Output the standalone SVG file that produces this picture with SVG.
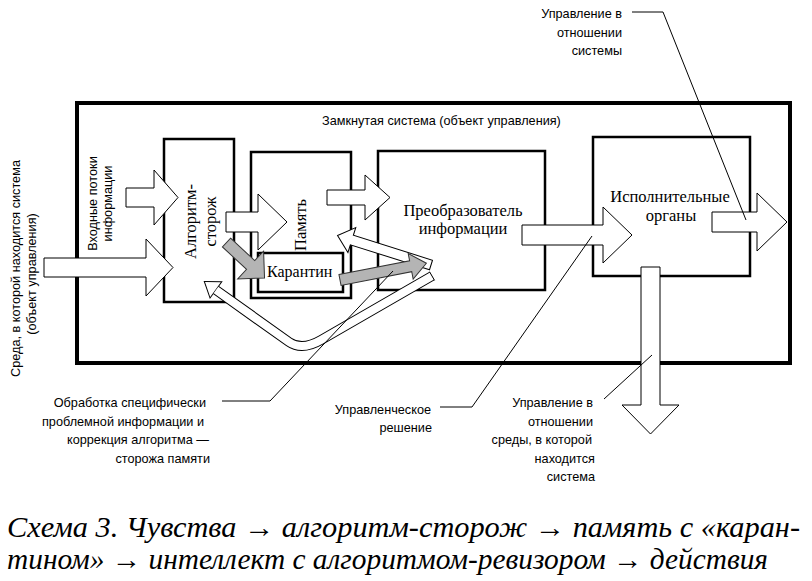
<svg xmlns="http://www.w3.org/2000/svg" width="812" height="581" viewBox="0 0 812 581">
<style>
.box{fill:none;stroke:#000;stroke-width:2.5}
.frame{fill:none;stroke:#000;stroke-width:4}
.ba{fill:#fff;stroke:#000;stroke-width:1}
.ga{fill:#b4b4b4;stroke:#333;stroke-width:1}
.ld{fill:none;stroke:#000;stroke-width:1}
.s{font-family:"Liberation Sans",Arial,sans-serif;font-size:12.7px;fill:#000}
.t{font-family:"Liberation Serif","Times New Roman",serif;font-size:16.5px;fill:#000}
.cap{font-family:"Liberation Serif","Times New Roman",serif;font-style:italic;font-size:29px;fill:#000}
</style>
<rect width="812" height="581" fill="#fff"/>

<g id="system">
  <rect class="frame" x="77" y="103" width="713" height="260"/>
  <text class="s" x="322" y="125">Замкнутая система (объект управления)</text>
</g>

<g id="environment-label">
  <text class="s" transform="translate(20,268.5) rotate(-90)" text-anchor="middle">Среда, в которой находится система</text>
  <text class="s" transform="translate(36,274) rotate(-90)" text-anchor="middle">(объект управления)</text>
</g>

<g id="input-label">
  <text class="s" transform="translate(96.5,203.5) rotate(-90)" text-anchor="middle">Входные потоки</text>
  <text class="s" transform="translate(112,203.5) rotate(-90)" text-anchor="middle">информации</text>
</g>

<g id="algorithm-guard">
  <rect class="box" x="164" y="139" width="70" height="163"/>
  <text class="t" transform="translate(196,221.5) rotate(-90)" text-anchor="middle">Алгоритм-</text>
  <text class="t" transform="translate(216,221.5) rotate(-90)" text-anchor="middle">сторож</text>
</g>

<g id="memory">
  <rect class="box" x="251" y="152" width="100" height="146"/>
  <text class="t" transform="translate(306,225) rotate(-90)" text-anchor="middle">Память</text>
</g>

<g id="quarantine">
  <rect class="box" x="258" y="253" width="85" height="39"/>
  <text class="t" x="267" y="277" style="font-size:16px">Карантин</text>
</g>

<g id="converter">
  <rect class="box" x="378" y="151" width="167" height="139"/>
  <text class="t" x="463" y="216" text-anchor="middle">Преобразователь</text>
  <text class="t" x="463" y="234" text-anchor="middle">информации</text>
</g>

<g id="executive">
  <rect class="box" x="593" y="137" width="157" height="139"/>
  <text class="t" x="670" y="202" text-anchor="middle">Исполнительные</text>
  <text class="t" x="671" y="221" text-anchor="middle">органы</text>
</g>

<g id="connectors">
  <g id="feedback-algorithm">
    <path d="M 432,276 L 321,340 Q 302,351 289,342 L 216,290" fill="none" stroke="#000" stroke-width="10"/>
    <polygon points="220.8,282.3 205,282 210.2,296.9" fill="#000" stroke="#000" stroke-width="2"/>
    <path d="M 432,276 L 321,340 Q 302,351 289,342 L 216,290" fill="none" stroke="#fff" stroke-width="8"/>
    <polygon points="220.8,282.3 205,282 210.2,296.9" fill="#fff"/>
    <line class="ld" x1="434.5" y1="280.3" x2="429.5" y2="271.7"/>
  </g>
  <polygon id="feedback-memory" class="ba" transform="translate(431,265) rotate(197.5)" points="0,-5 83,-5 83,-13 98,0 83,13 83,5 0,5"/>

  <polygon id="a-env" class="ba" points="44,258 146,258 146,239 173,267.5 146,296 146,277 44,277"/>
  <polygon id="a-input" class="ba" points="126,188 154,188 154,170 178,197.5 154,225 154,207 126,207"/>
  <polygon id="a-guard-memory" class="ba" points="226,212 258,212 258,194 287,222 258,250 258,232 226,232"/>
  <polygon id="a-memory-converter" class="ba" points="327,190 365,190 365,175 390,197.5 365,220 365,205 327,205"/>
  <polygon id="a-converter-exec" class="ba" points="522,225 603,225 603,207 632,235 603,263 603,245 522,245"/>
  <polygon id="a-exec-out" class="ba" points="712,212 757,212 757,193 787,222 757,251 757,232 712,232"/>
  <polygon id="a-exec-down" class="ba" points="641,267 660,267 660,405 679,405 650.5,434 622,405 641,405"/>

  <polygon id="g-guard-quarantine" class="ga" transform="translate(226.5,242.5) rotate(43)" points="0,-6 33,-6 33,-19 52,0 33,19 33,6 0,6"/>
  <polygon id="g-quarantine-converter" class="ga" transform="translate(340,280) rotate(-11)" points="0,-5.5 72,-5.5 72,-13 88,0 72,13 72,5.5 0,5.5"/>

  <polyline class="ld" points="632,12 663,12 746,220"/>
  <polyline class="ld" points="222,401 270,401 393,271"/>
  <polyline class="ld" points="440,407 472,407 592,236"/>
  <line class="ld" x1="604" y1="399" x2="652" y2="355"/>
</g>

<g id="label-system-control">
  <text class="s" x="622" y="18" text-anchor="end">Управление в</text>
  <text class="s" x="622" y="37" text-anchor="end">отношении</text>
  <text class="s" x="622" y="55" text-anchor="end">системы</text>
</g>

<g id="label-processing">
  <text class="s" x="206" y="407" text-anchor="end">Обработка специфически</text>
  <text class="s" x="204" y="426" text-anchor="end">проблемной информации и</text>
  <text class="s" x="209" y="444" text-anchor="end">коррекция алгоритма —</text>
  <text class="s" x="210" y="463" text-anchor="end">сторожа памяти</text>
</g>

<g id="label-decision">
  <text class="s" x="431" y="414" text-anchor="end">Управленческое</text>
  <text class="s" x="432" y="432" text-anchor="end">решение</text>
</g>

<g id="label-env-control">
  <text class="s" x="593" y="407" text-anchor="end">Управление в</text>
  <text class="s" x="593" y="426" text-anchor="end">отношении</text>
  <text class="s" x="592" y="444" text-anchor="end">среды, в которой</text>
  <text class="s" x="595" y="463" text-anchor="end">находится</text>
  <text class="s" x="595" y="481" text-anchor="end">система</text>
</g>

<g id="caption">
  <text class="cap" x="7" y="537" textLength="793" lengthAdjust="spacingAndGlyphs">Схема 3. Чувства → алгоритм-сторож → память с «каран-</text>
  <text class="cap" x="7" y="569" textLength="761" lengthAdjust="spacingAndGlyphs">тином» → интеллект с алгоритмом-ревизором → действия</text>
</g>
</svg>
